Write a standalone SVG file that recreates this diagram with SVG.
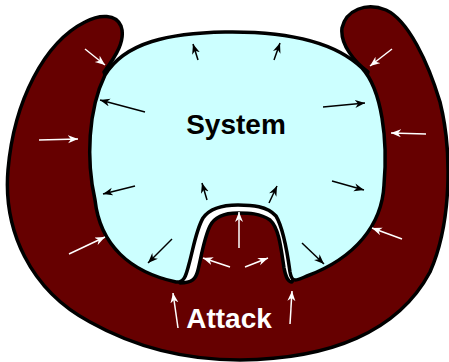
<svg xmlns="http://www.w3.org/2000/svg" width="449" height="362" viewBox="0 0 449 362">
<defs>
<style>
.attack{fill:#660000;stroke:#000;stroke-width:3.5;stroke-linejoin:round}
.system{fill:#ccffff;stroke:#000;stroke-width:3.5;stroke-linejoin:round}
.lbl{font-family:"Liberation Sans",Arial,sans-serif;font-weight:bold;font-size:28px;text-anchor:middle}
.ab{stroke:#000;stroke-width:1.5;fill:none;marker-end:url(#hb)}
.aw{stroke:#fff;stroke-width:1.5;fill:none;marker-end:url(#hw)}
</style>
<marker id="hb" markerUnits="userSpaceOnUse" markerWidth="11" markerHeight="9" refX="10" refY="4" orient="auto" viewBox="0 0 11 9">
<path d="M0,0 L10,4 L0,8 L3,4 Z" fill="#000"/>
</marker>
<marker id="hw" markerUnits="userSpaceOnUse" markerWidth="11" markerHeight="9" refX="10" refY="4" orient="auto" viewBox="0 0 11 9">
<path d="M0,0 L10,4 L0,8 L3,4 Z" fill="#fff"/>
</marker>
</defs>
<rect width="449" height="362" fill="#fff"/>
<g id="attack">
<path class="attack" d="M104,72 C116,56 126,40 121,26 C116,14 100,14 85,22 C45,42 14,100 8,170 C3,230 30,290 90,322 C140,350 190,360 240,360 C330,359 398,332 430,272 C452,222 452,150 440,102 C428,62 408,20 386,10 C366,2 346,10 342,28 C340,45 355,62 368,72 L345,140 L292,282 C288,282 286,278 284,268 C281,248 279,228 270,220 C260,213 248,213 238,213 C226,213 215,216 210,226 C204,238 201,258 198,270 C196,279 192,283 180,283 L150,200 Z"/>
<text class="lbl" x="229" y="328" fill="#fff">Attack</text>
</g>
<g id="system">
<path class="system" d="M225,32 C290,31 335,42 362,68 C382,90 388,140 384,185 C382,225 355,258 307,276 C297,280 292,284 290,272 C287,250 282,226 276,216 C267,206 252,205 238,205 C224,205 210,208 203,218 C196,230 193,250 189,264 C186,276 184,283 176,282 C130,272 100,245 95,200 C86,160 88,110 105,75 C125,42 170,33 225,32 Z"/>
<text class="lbl" x="236" y="134" fill="#000">System</text>
</g>
<g id="connectors">
<line class="ab" x1="198" y1="60" x2="193" y2="44"/>
<line class="ab" x1="274" y1="60" x2="280" y2="43"/>
<line class="ab" x1="145" y1="112" x2="100" y2="100"/>
<line class="ab" x1="323" y1="107" x2="365" y2="103"/>
<line class="ab" x1="135" y1="186" x2="103" y2="194"/>
<line class="ab" x1="207" y1="200" x2="202" y2="183"/>
<line class="ab" x1="269" y1="203" x2="277" y2="186"/>
<line class="ab" x1="172" y1="239" x2="148" y2="263"/>
<line class="ab" x1="332" y1="181" x2="364" y2="190"/>
<line class="ab" x1="302" y1="243" x2="324" y2="264"/>
<line class="aw" x1="85" y1="49" x2="105" y2="65"/>
<line class="aw" x1="39" y1="140" x2="78" y2="139"/>
<line class="aw" x1="392" y1="49" x2="370" y2="66"/>
<line class="aw" x1="426" y1="134" x2="391" y2="133"/>
<line class="aw" x1="69" y1="254" x2="105" y2="237"/>
<line class="aw" x1="178" y1="328" x2="173" y2="293"/>
<line class="aw" x1="290" y1="324" x2="292" y2="291"/>
<line class="aw" x1="402" y1="239" x2="372" y2="228"/>
<line class="aw" x1="239" y1="248" x2="239" y2="212"/>
<line class="aw" x1="230" y1="267" x2="203" y2="258"/>
<line class="aw" x1="245" y1="267" x2="268" y2="258"/>
</g>
</svg>
